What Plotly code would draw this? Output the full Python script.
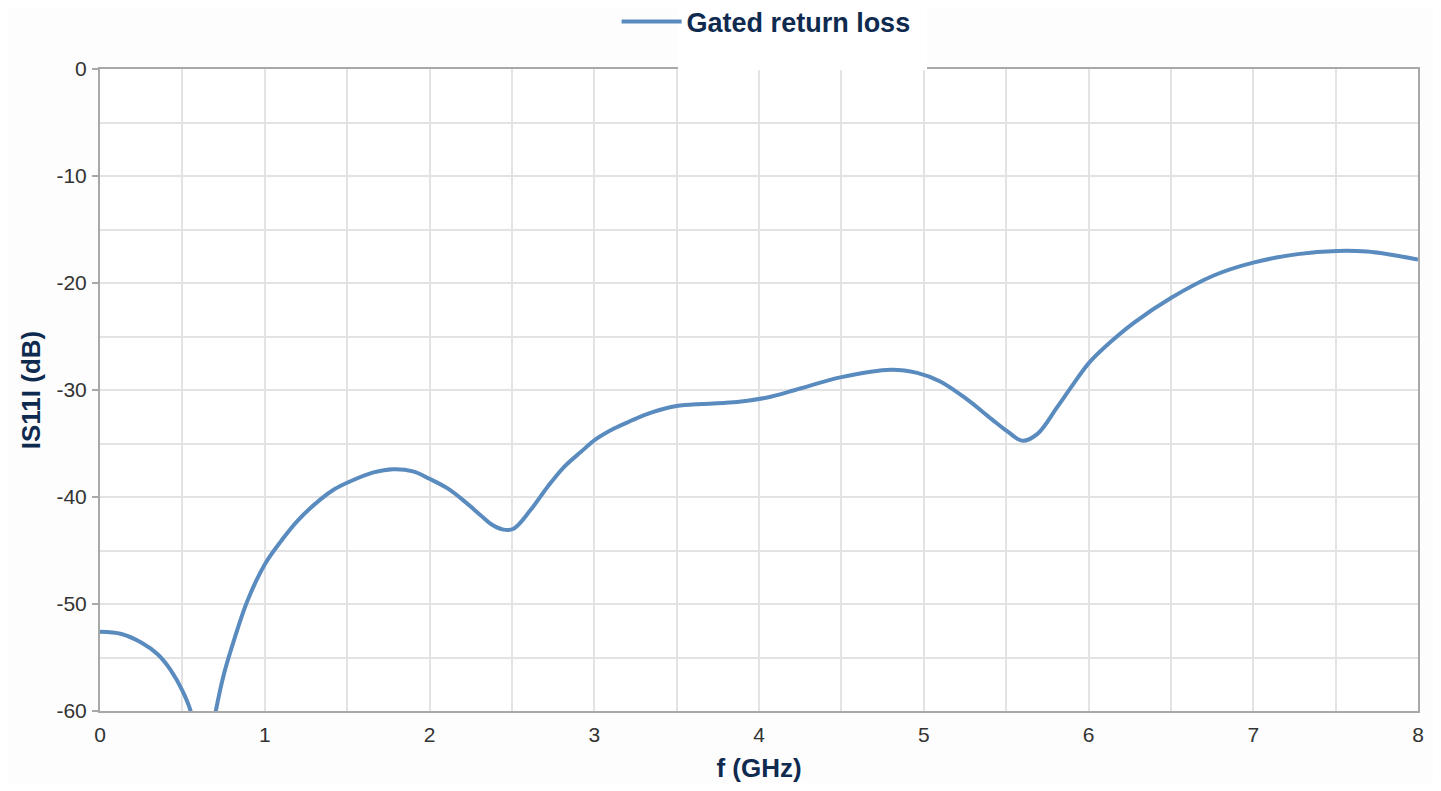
import plotly.graph_objects as go

freq_ghz = [0.0, 0.13, 0.25, 0.35, 0.43, 0.50, 0.55, 0.59, 0.63, 0.67, 0.703, 0.753, 0.813, 0.895,
            1.0, 1.1, 1.2, 1.34, 1.42, 1.51, 1.66, 1.78, 1.9, 2.0, 2.11, 2.22, 2.31, 2.38, 2.45, 2.51, 2.614,
            2.716, 2.816, 2.918, 3.01, 3.12, 3.22, 3.35, 3.5, 3.65, 3.8, 3.93, 4.05, 4.22, 4.5, 4.8, 4.96,
            5.10, 5.265, 5.41, 5.51, 5.60, 5.69, 5.81, 5.91, 6.007, 6.135, 6.277, 6.5,
            6.76, 7.0, 7.27, 7.51, 7.69, 7.855, 8.0]
s11_db = [-52.6, -52.8, -53.6, -54.7, -56.2, -58.1, -60.0, -63.0, -65.0, -63.0, -60.0, -56.5, -53.4, -49.7,
          -46.3, -44.1, -42.2, -40.2, -39.3, -38.6, -37.7, -37.4, -37.6, -38.3, -39.2, -40.5, -41.7, -42.6, -43.05, -42.96, -41.2,
          -39.06, -37.2, -35.8, -34.6, -33.6, -32.9, -32.1, -31.5, -31.3, -31.2, -31.0, -30.7, -30.0, -28.8, -28.1, -28.4,
          -29.2, -30.9, -32.7, -33.9, -34.75, -34.1, -31.6, -29.4, -27.4, -25.5, -23.7, -21.4,
          -19.3, -18.1, -17.3, -17.0, -17.06, -17.4, -17.8]

series_name = "Gated return loss"
x_title = "f (GHz)"
y_title = "IS11I (dB)"
x_ticks = [0, 1, 2, 3, 4, 5, 6, 7, 8]
y_ticks = [0, -10, -20, -30, -40, -50, -60]

navy = "#0f2a4f"
grid = "#e3e3e3"
axis_line = "#a8a8a8"

fig = go.Figure()
fig.add_trace(go.Scatter(
    x=freq_ghz, y=s11_db, mode="lines", name=series_name,
    line=dict(color="#5a8bbf", width=4, shape="spline", smoothing=1.0),
))

fig.update_layout(
    width=1425, height=775,
    margin=dict(l=92, r=15, t=61, b=72, autoexpand=False),
    paper_bgcolor="#fdfdfd",
    plot_bgcolor="#ffffff",
    font=dict(family="Liberation Sans, Arial, sans-serif", color="#333333", size=21),
    showlegend=True,
    legend=dict(
        orientation="h", x=0.532, xanchor="center", xref="container",
        y=0.982, yanchor="middle", yref="container",
        bgcolor="rgba(0,0,0,0)",
        font=dict(size=27, color=navy, family="Liberation Sans, Arial, sans-serif", weight="bold"),
        itemwidth=60,
    ),
    xaxis=dict(
        range=[0, 8], tickvals=x_ticks, ticktext=[str(v) for v in x_ticks],
        showgrid=True, gridcolor=grid, gridwidth=1.5,
        minor=dict(dtick=0.5, showgrid=True, gridcolor=grid, gridwidth=1.5),
        showline=True, linecolor=axis_line, linewidth=2, mirror=True,
        ticks="", ticklabelstandoff=4, zeroline=False, automargin=False,
        tickfont=dict(size=21, color="#333333"),
        title=dict(text=x_title, font=dict(size=26, color=navy, weight="bold"), standoff=26),
    ),
    yaxis=dict(
        range=[-60, 0], tickvals=y_ticks, ticktext=[str(v) for v in y_ticks],
        showgrid=True, gridcolor=grid, gridwidth=1.5,
        minor=dict(dtick=5, showgrid=True, gridcolor=grid, gridwidth=1.5),
        showline=True, linecolor=axis_line, linewidth=2, mirror=True,
        ticks="outside", ticklen=6, tickcolor=axis_line, tickwidth=2,
        ticklabelstandoff=1, zeroline=False, automargin=False,
        tickfont=dict(size=21, color="#333333"),
        title=dict(text=y_title, font=dict(size=26, color=navy, weight="bold"), standoff=8),
    ),
    shapes=[dict(
        type="rect", xref="paper", yref="paper", layer="above",
        x0=0.4385, x1=0.6275, y0=0.998, y1=1.11,
        fillcolor="#ffffff", line=dict(width=0),
    )],
)

fig.write_html("out.html")
